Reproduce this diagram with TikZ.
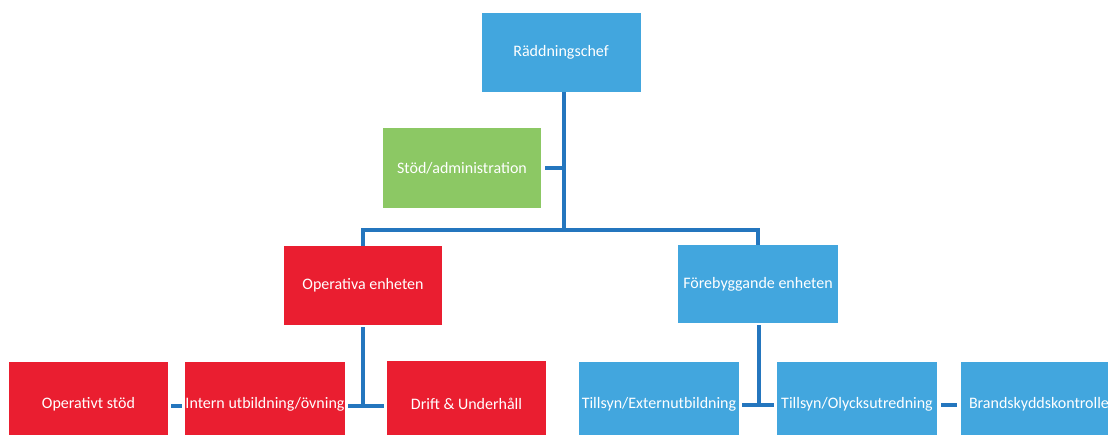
\documentclass[tikz,border=0pt]{standalone}
\usepackage{fontspec}
\setmainfont{Carlito}
\definecolor{bbox}{RGB}{66,166,222}
\definecolor{rbox}{RGB}{234,30,48}
\definecolor{gbox}{RGB}{140,200,100}
\definecolor{lineblue}{RGB}{36,118,190}
\begin{document}
\begin{tikzpicture}[x=1pt,y=-1pt,
  box/.style={rectangle, draw=none, text=white, font=\fontsize{16}{19}\selectfont, inner sep=0pt},
  blue box/.style={box, fill=bbox},
  red box/.style={box, fill=rbox},
  green box/.style={box, fill=gbox},
  conn/.style={draw=lineblue, line width=3.5pt},
  gapconn/.style={conn, shorten <=3pt, shorten >=3pt}]
\useasboundingbox (0,0) rectangle (1108,435);
\clip (0,0) rectangle (1108,435);
\fill[white] (0,0) rectangle (1108,435);
% nodes
\node[blue box, minimum width=159pt, minimum height=79pt] (chef) at (561,52.5) {Räddningschef};
\node[green box, minimum width=158pt, minimum height=80pt] (stod) at (462,168) {Stöd/administration};
\node[red box, minimum width=158pt, minimum height=79pt] (oper) at (363,285.5) {Operativa enheten};
\node[blue box, minimum width=160pt, minimum height=78pt] (fore) at (758,284) {Förebyggande enheten};
\node[red box, minimum width=159pt, minimum height=84pt] (opstod) at (88.5,404) {Operativt stöd};
\node[red box, minimum width=160pt, minimum height=84pt] (intern) at (265,404) {Intern utbildning/övning};
\node[red box, minimum width=159pt, minimum height=86pt] (drift) at (466.5,404) {Drift \& Underhåll};
\node[blue box, minimum width=160pt, minimum height=84pt] (tillext) at (659,404) {Tillsyn/Externutbildning};
\node[blue box, minimum width=160pt, minimum height=84pt] (tilloly) at (857,404) {Tillsyn/Olycksutredning};
\node[blue box, minimum height=84pt, text width=143pt, inner xsep=8pt, align=left] (brand) at (1040.5,404) {Brandskyddskontrolle};
% connectors
\coordinate (hbar) at (564,230);
\coordinate (stodj) at (564,168);
\draw[conn] (chef.south -| hbar) -- (hbar);
\draw[conn, shorten <=4pt] (stod.east) -- (stodj);
\draw[conn] (oper.north) |- (hbar) -| (fore.north);
\coordinate (opj) at (363,406);
\draw[conn, shorten <=2pt] (oper.south) -- (opj);
\draw[gapconn] (intern.east |- opj) -- (drift.west |- opj);
\draw[gapconn] (opstod.east |- opj) -- (intern.west |- opj);
\coordinate (foj) at (759,405);
\draw[conn, shorten <=2pt] (fore.south -| foj) -- (foj);
\draw[gapconn] (tillext.east |- foj) -- (tilloly.west |- foj);
\draw[conn, shorten <=4pt, shorten >=4pt] (tilloly.east |- foj) -- (brand.west |- foj);
\end{tikzpicture}
\end{document}
